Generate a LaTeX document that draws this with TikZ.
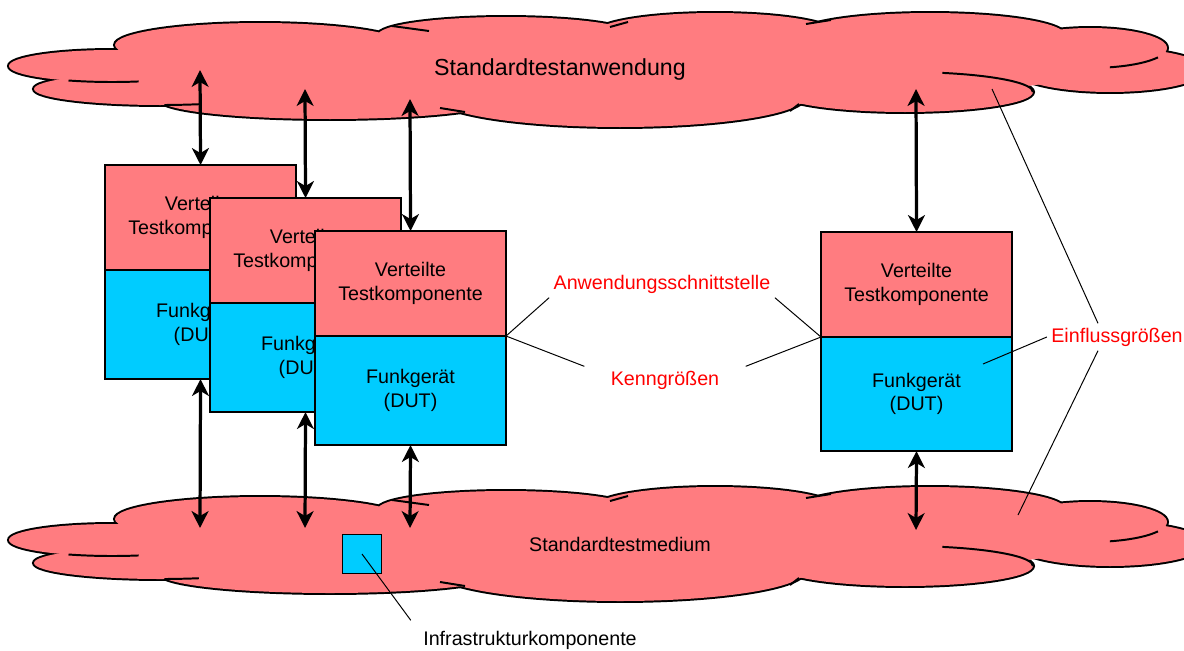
\documentclass[tikz,border=0pt]{standalone}
\usepackage{fontspec}
\setmainfont{Liberation Sans}
\usetikzlibrary{positioning,arrows.meta}

\definecolor{wolkenrot}{HTML}{FF7C80}
\definecolor{dutblau}{HTML}{00CCFF}
\newcommand{\schrift}{\fontsize{14}{16.8}\selectfont}
% Boegen der Wolke: Mitte x/y, Radius x/y (in Pixeln)
\newcommand{\wolkenboegen}{112/66/103/16, 160/89/126/16, 260/45/145/22, 330/100/170/19, 620/97/185/30, 905/92/128/20, 1110/70/95/22, 1090/48/77/20, 930/35/135/22, 715/33/120/20, 506/35/128/18}

\tikzset{
  wolkenlinie/.style={line width=1.4pt},
  wolke/.pic={
    \foreach \cx/\cy/\rx/\ry in \wolkenboegen
      \draw[line width=2.8pt] (\cx,\cy) ellipse [x radius=\rx, y radius=\ry];
    \foreach \cx/\cy/\rx/\ry in \wolkenboegen
      \fill[wolkenrot] (\cx,\cy) ellipse [x radius=\rx, y radius=\ry];
    \fill[wolkenrot] (600,70) ellipse [x radius=430, y radius=38]
                     (950,62) ellipse [x radius=150, y radius=28];
    % innere Linien
    \draw[wolkenlinie] (68.5,80.5) arc [start angle=115, end angle=75, x radius=103, y radius=16];
    \draw[wolkenlinie] (164.4,105) arc [start angle=88, end angle=72, x radius=126, y radius=16];
    \draw[wolkenlinie] (942.4,72.9) arc [start angle=-73, end angle=0, x radius=128, y radius=20];
    \draw[wolkenlinie] (1109.9,67.3) arc [start angle=75, end angle=28, x radius=77, y radius=20];
    \draw[wolkenlinie] (392,26) -- (429,31);
    \draw[wolkenlinie] (440,108) -- (465,112);
    \draw[wolkenlinie] (610,27) -- (628,22);
    \draw[wolkenlinie] (806,24) -- (831,20);
    \draw[wolkenlinie] (790,111) -- (799,104);
  },
  tk/.style={draw, line width=1pt, fill=wolkenrot, minimum width=4.775cm,
    minimum height=2.625cm, align=center, inner sep=0pt, outer sep=0pt, font=\schrift},
  dut/.style={tk, fill=dutblau, minimum height=2.725cm},
  pfeil/.style={{Stealth[length=12pt,width=12pt,inset=3.5pt]}-{Stealth[length=12pt,width=12pt,inset=3.5pt]}, line width=2.3pt},
  hinweis/.style={line width=0.7pt},
  rotlabel/.style={font=\schrift, text=red, inner sep=3pt},
}

\begin{document}
\begin{tikzpicture}[x=0.025cm, y=-0.025cm]
\useasboundingbox (0,0) rectangle (1184,651);

% Wolken
\pic (wOben) at (0,0) {wolke};
\pic (wUnten) at (0,474) {wolke};
\node[font=\fontsize{16.5}{19.8}\selectfont] (anw) at (560,70) {Standardtestanwendung};
\node[font=\schrift] (med) at (620,544) {Standardtestmedium};

% Testkomponenten
\node[tk, anchor=north west] (tkA) at (105,165) {Verteilte\\Testkomponente};
\node[dut, below=0pt of tkA] (dutA) {Funkgerät\\(DUT)};
\node[tk, anchor=north west] (tkB) at (210,198) {Verteilte\\Testkomponente};
\node[dut, below=0pt of tkB] (dutB) {Funkgerät\\(DUT)};
\node[tk, anchor=north west] (tkC) at (315,231) {Verteilte\\Testkomponente};
\node[dut, below=0pt of tkC] (dutC) {Funkgerät\\(DUT)};
\node[tk, anchor=north west] (tkD) at (821,232) {Verteilte\\Testkomponente};
\node[dut, below=0pt of tkD, minimum height=2.85cm] (dutD) {Funkgerät\\(DUT)};

\node[draw, line width=1pt, fill=dutblau, minimum size=0.975cm] (infra) at (362,554) {};

% Pfeile
\coordinate (oA) at (200,70);
\coordinate (oB) at (305,89);
\coordinate (oC) at (410,99);
\coordinate (oD) at (916,89);
\coordinate (uA) at (200,528);
\coordinate (uB) at (305,528);
\coordinate (uC) at (410,528);
\coordinate (uD) at (916,530);
\draw[pfeil] (oA) -- (tkA.north);
\draw[pfeil] (oB) -- (tkB.north);
\draw[pfeil] (oC) -- (tkC.north);
\draw[pfeil] (oD) -- (tkD.north);
\draw[pfeil] (dutA.south) -- (uA);
\draw[pfeil] (dutB.south) -- (uB);
\draw[pfeil] (dutC.south) -- (uC);
\draw[pfeil] (dutD.south) -- (uD);

% Beschriftungen
\node[rotlabel] (aws) at (662,284) {Anwendungsschnittstelle};
\node[rotlabel] (kg) at (665,380) {Kenngrößen};
\node[rotlabel] (eg) at (1117,337) {Einflussgrößen};
\node[font=\schrift, inner sep=3pt] (ikText) at (530,640) {Infrastrukturkomponente};

\draw[hinweis] (tkC.south east) -- (aws.south west);
\draw[hinweis] (tkD.south west) -- (aws.south east);
\draw[hinweis] (tkC.south east) -- ([xshift=-0.55cm]kg.north west);
\draw[hinweis] (tkD.south west) -- ([xshift=0.55cm]kg.north east);

\coordinate (eOben) at (992,89);
\coordinate (eUnten) at (1018,515);
\coordinate (eDut) at (983,364);
\draw[hinweis] (eg.west) -- (eDut);
\draw[hinweis] ([xshift=-0.475cm]eg.north) -- (eOben);
\draw[hinweis] ([xshift=-0.475cm]eg.south) -- (eUnten);
\draw[hinweis] (infra.center) -- ([shift={(-0.2cm,0.15cm)}]ikText.north west);
\end{tikzpicture}
\end{document}
